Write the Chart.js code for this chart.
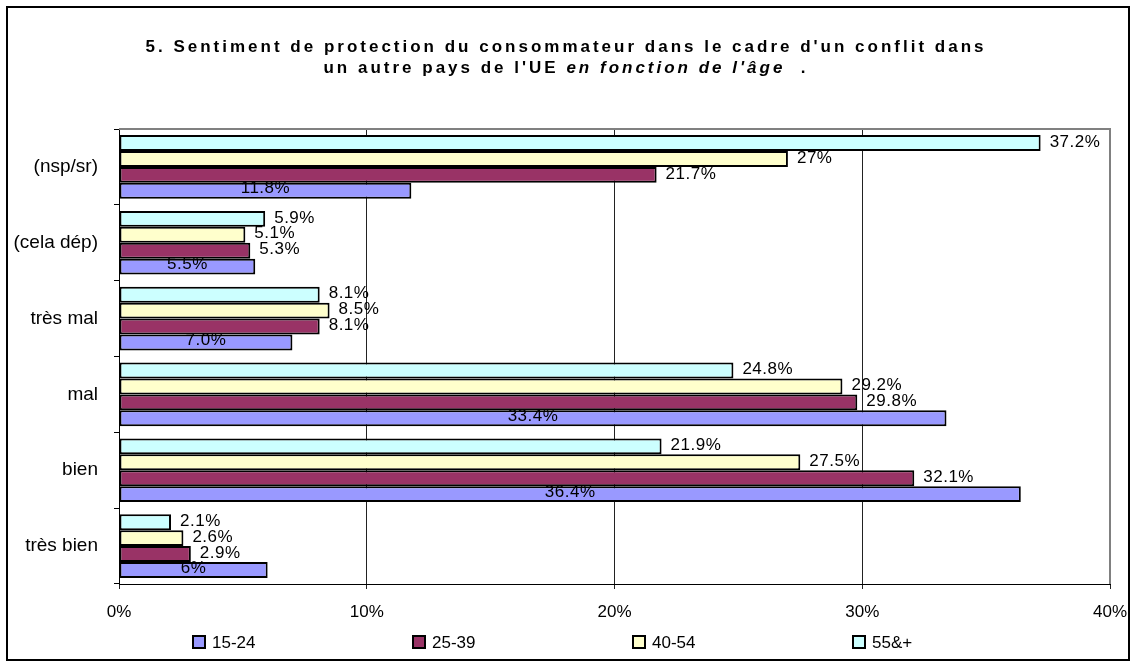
<!DOCTYPE html>
<html><head><meta charset="utf-8">
<script src="https://cdn.jsdelivr.net/npm/chart.js@4/dist/chart.umd.min.js"></script>
<style>html,body{margin:0;padding:0;background:#fff}</style>
</head><body><canvas id="c" width="1133" height="666"></canvas>
<script>
const categories = ['(nsp/sr)', '(cela dép)', 'très mal', 'mal', 'bien', 'très bien'];
const seriesNames = ['15-24', '25-39', '40-54', '55&+'];
const age1524 = [11.8, 5.5, 7.0, 33.4, 36.4, 6];
const age2539 = [21.7, 5.3, 8.1, 29.8, 32.1, 2.9];
const age4054 = [27, 5.1, 8.5, 29.2, 27.5, 2.6];
const age55 = [37.2, 5.9, 8.1, 24.8, 21.9, 2.1];
const labels1524 = ['11.8%', '5.5%', '7.0%', '33.4%', '36.4%', '6%'];
const labels2539 = ['21.7%', '5.3%', '8.1%', '29.8%', '32.1%', '2.9%'];
const labels4054 = ['27%', '5.1%', '8.5%', '29.2%', '27.5%', '2.6%'];
const labels55 = ['37.2%', '5.9%', '8.1%', '24.8%', '21.9%', '2.1%'];
const xTickValues = [0, 10, 20, 30, 40];
const xTickLabels = ['0%', '10%', '20%', '30%', '40%'];
const titleLine1 = "5. Sentiment de protection du consommateur dans le cadre d'un conflit dans";
const titleLine2a = "un autre pays de l'UE ";
const titleLine2b = "en fonction de l'âge";
const titleLine2c = "  .";

const colors = ['#9999FF', '#993366', '#FFFFCC', '#CCFFFF'];
const FONT = '"Liberation Sans", Arial, sans-serif';

// datasets listed top-to-bottom within each band (55&+ at top)
const datasets = [
  {label: seriesNames[3], data: age55, backgroundColor: colors[3], valueLabels: labels55, centered: false},
  {label: seriesNames[2], data: age4054, backgroundColor: colors[2], valueLabels: labels4054, centered: false},
  {label: seriesNames[1], data: age2539, backgroundColor: colors[1], valueLabels: labels2539, centered: false},
  {label: seriesNames[0], data: age1524, backgroundColor: colors[0], valueLabels: labels1524, centered: true}
].map(d => Object.assign(d, {borderColor: '#000', borderWidth: 2, borderSkipped: false,
  categoryPercentage: 0.84, barPercentage: 1.0}));

const decor = {
  id: 'decor',
  beforeDraw(chart) {
    const ctx = chart.ctx;
    ctx.save();
    ctx.fillStyle = '#fff';
    ctx.fillRect(0, 0, chart.width, chart.height);
    ctx.restore();
  },
  beforeDatasetsDraw(chart) {
    const ctx = chart.ctx, a = chart.chartArea;
    ctx.save();
    ctx.strokeStyle = '#808080';
    ctx.lineWidth = 2;
    ctx.beginPath();
    ctx.moveTo(a.left, a.top);
    ctx.lineTo(a.right, a.top);
    ctx.lineTo(a.right, a.bottom);
    ctx.stroke();
    ctx.restore();
  },
  afterDatasetsDraw(chart) {
    const ctx = chart.ctx;
    ctx.save();
    ctx.font = '17px ' + FONT;
    ctx.letterSpacing = '0.5px';
    ctx.fillStyle = '#000';
    ctx.textBaseline = 'middle';
    chart.data.datasets.forEach((ds, di) => {
      const meta = chart.getDatasetMeta(di);
      meta.data.forEach((bar, i) => {
        const txt = ds.valueLabels[i];
        if (ds.centered) {
          ctx.textAlign = 'center';
          ctx.fillText(txt, (bar.x + bar.base) / 2, bar.y - 2);
        } else {
          ctx.textAlign = 'left';
          ctx.fillText(txt, bar.x + 9, bar.y - 1);
        }
      });
    });
    ctx.restore();
  },
  afterDraw(chart) {
    const ctx = chart.ctx;
    ctx.save();
    // outer frame
    ctx.strokeStyle = '#000';
    ctx.lineWidth = 2;
    ctx.strokeRect(7, 7, 1122, 653);
    // title
    ctx.fillStyle = '#000';
    ctx.textBaseline = 'middle';
    ctx.textAlign = 'left';
    ctx.letterSpacing = '3px';
    const cx = 566;
    const fA = 'bold 17px ' + FONT, fB = 'italic bold 17px ' + FONT;
    ctx.font = fA;
    let w1 = ctx.measureText(titleLine1).width;
    ctx.fillText(titleLine1, cx - w1 / 2, 47);
    ctx.font = fA; const wa = ctx.measureText(titleLine2a).width, wc = ctx.measureText(titleLine2c).width;
    ctx.font = fB; const wb = ctx.measureText(titleLine2b).width;
    let x = cx - (wa + wb + wc) / 2;
    ctx.font = fA; ctx.fillText(titleLine2a, x, 68); x += wa;
    ctx.font = fB; ctx.fillText(titleLine2b, x, 68); x += wb;
    ctx.font = fA; ctx.fillText(titleLine2c, x, 68);
    // legend (series order 15-24 ... 55&+)
    ctx.letterSpacing = '0px';
    ctx.font = '17px ' + FONT;
    const startX = 193, step = 220, ly = 642;
    seriesNames.forEach((name, k) => {
      const bx = startX + k * step;
      ctx.fillStyle = colors[k];
      ctx.fillRect(bx, ly - 6, 12, 12);
      ctx.strokeStyle = '#000';
      ctx.lineWidth = 2;
      ctx.strokeRect(bx, ly - 6, 12, 12);
      ctx.fillStyle = '#000';
      ctx.fillText(name, bx + 19, ly + 1);
    });
    ctx.restore();
  }
};

new Chart(document.getElementById('c'), {
  type: 'bar',
  data: {labels: categories, datasets},
  options: {
    indexAxis: 'y',
    responsive: false,
    devicePixelRatio: 1,
    animation: false,
    layout: {padding: {left: 0, right: 23, top: 129, bottom: 42}},
    plugins: {legend: {display: false}, title: {display: false}, tooltip: {enabled: false}},
    scales: {
      x: {
        min: 0, max: 40,
        afterBuildTicks(scale) { scale.ticks = xTickValues.map(v => ({value: v})); },
        afterFit(scale) { scale.height = 40; scale.paddingRight = 0; scale.paddingLeft = 0; },
        ticks: {
          callback: (v) => xTickLabels[xTickValues.indexOf(v)],
          color: '#000', font: {size: 17, family: FONT}, padding: 13, maxRotation: 0
        },
        grid: {color: '#222', lineWidth: 1, tickLength: 5, drawOnChartArea: true},
        border: {color: '#000', width: 1}
      },
      y: {
        afterFit(scale) { scale.width = 119; scale.paddingTop = 0; scale.paddingBottom = 0; },
        ticks: {color: '#000', font: {size: 19, family: FONT}, padding: 16},
        grid: {drawOnChartArea: false, tickLength: 5, color: '#000', offset: true},
        border: {color: '#000', width: 1}
      }
    }
  },
  plugins: [decor]
});
</script>
</body></html>
